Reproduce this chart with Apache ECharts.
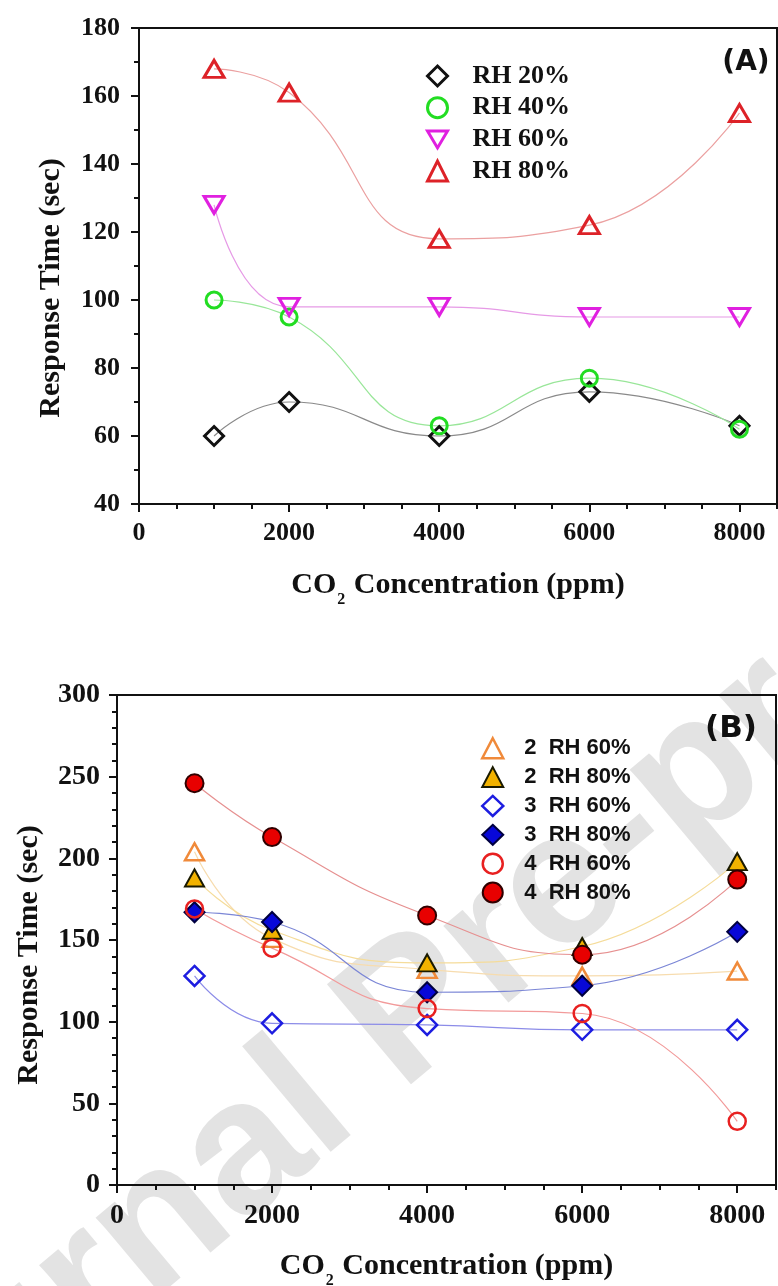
<!DOCTYPE html>
<html>
<head>
<meta charset="utf-8">
<script src="https://cdn.jsdelivr.net/npm/echarts@6/dist/echarts.min.js"></script>
<style>
  html, body { margin: 0; padding: 0; background: #fff; }
  #echart { width: 778px; height: 1286px; }
</style>
</head>
<body>
<div id="echart"></div>
<script>
// CO2 concentration (ppm) where each response time was measured
var concentrations = [1000, 2000, 4000, 6000, 8000];

// panel (A): response time (sec)
var rh20 = [60, 70, 60, 73, 63];
var rh40 = [100, 95, 63, 77, 62];
var rh60 = [128, 98, 98, 95, 95];
var rh80 = [168, 161, 118, 122, 155];

// panel (B): response time (sec)
var s2rh60 = [204, 151, 132, 128, 131];
var s2rh80 = [188, 156, 136, 146, 198];
var s3rh60 = [128, 99, 98, 95, 95];
var s3rh80 = [167, 161, 118, 122, 155];
var s4rh60 = [169, 145, 108, 105, 39];
var s4rh80 = [246, 213, 165, 141, 187];

var xTickLabels = [0, 2000, 4000, 6000, 8000];

var serif = 'Liberation Serif';
var sans = 'Liberation Sans';
var clear = 'rgba(0,0,0,0)';
var downTriangle = 'path://M0,0 L20,0 L10,17 Z';

function pairs(values) {
    return concentrations.map(function (x, i) { return [x, values[i]]; });
}

function line(name, values, axis, symbol, size, itemStyle, lineColor) {
    return {
        name: name,
        type: 'line',
        xAxisIndex: axis,
        yAxisIndex: axis / 2,
        data: pairs(values),
        smooth: 0.5,
        symbol: symbol,
        symbolSize: size,
        symbolKeepAspect: false,
        itemStyle: itemStyle,
        lineStyle: { color: lineColor, width: 1.2 },
        emphasis: { disabled: true }
    };
}

var st = {
    rh20: { color: clear, borderColor: '#111', borderWidth: 3 },
    rh40: { color: clear, borderColor: '#22dd22', borderWidth: 3 },
    rh60: { color: clear, borderColor: '#e020e0', borderWidth: 3 },
    rh80: { color: clear, borderColor: '#dd2228', borderWidth: 3 },
    s2rh60: { color: clear, borderColor: '#f08a3a', borderWidth: 2.5 },
    s2rh80: { color: '#f2b200', borderColor: '#1a1a00', borderWidth: 2 },
    s3rh60: { color: clear, borderColor: '#1d1de0', borderWidth: 2.5 },
    s3rh80: { color: '#0808d8', borderColor: '#000040', borderWidth: 2 },
    s4rh60: { color: clear, borderColor: '#e82020', borderWidth: 2.5 },
    s4rh80: { color: '#e80000', borderColor: '#300000', borderWidth: 2 }
};

function xAxes(grid) {
    var common = {
        type: 'value', gridIndex: grid, min: 0, max: 8500, position: 'bottom',
        splitLine: { show: false }
    };
    var a = Object.assign({}, common, {
        interval: 2000,
        axisLine: { lineStyle: { color: '#111', width: 2 } },
        axisTick: { length: 8, lineStyle: { color: '#111', width: 2 } },
        axisLabel: {
            margin: grid === 0 ? 16 : 17, showMaxLabel: false,
            fontFamily: serif, fontWeight: 'bold', fontSize: grid === 0 ? 26 : 28, color: '#111',
            formatter: function (v) { return xTickLabels.indexOf(v) >= 0 ? String(v) : ''; }
        },
        name: '{a|CO}{s|2}{a| Concentration (ppm)}',
        nameLocation: 'middle',
        nameGap: 66,
        nameMoveOverlap: false,
        nameTextStyle: {
            rich: {
                a: { fontFamily: serif, fontWeight: 'bold', fontSize: 30, lineHeight: 30, color: '#111', verticalAlign: 'top' },
                s: { fontFamily: serif, fontWeight: 'bold', fontSize: 16, lineHeight: 16, color: '#111', verticalAlign: 'top', padding: [22, 1, 0, 1] }
            }
        }
    });
    var b = Object.assign({}, common, {
        interval: 500,
        axisLine: { show: false },
        axisTick: { length: 5, lineStyle: { color: '#111', width: 2 } },
        axisLabel: { show: false }
    });
    return [a, b];
}

function yAxis(grid, min, max, interval, minorSplit, margin, size, shift) {
    return {
        type: 'value', gridIndex: grid, min: min, max: max, interval: interval,
        splitLine: { show: false },
        axisLine: { show: true, lineStyle: { color: '#111', width: 2 } },
        axisTick: { show: true, length: 8, lineStyle: { color: '#111', width: 2 } },
        minorTick: { show: true, splitNumber: minorSplit, length: 5, lineStyle: { color: '#111', width: 2 } },
        axisLabel: { margin: margin, fontFamily: serif, fontWeight: 'bold', fontSize: size, color: '#111' },
        name: 'Response Time (sec)',
        nameLocation: 'middle',
        nameGap: 73,
        nameMoveOverlap: false,
        nameTextStyle: {
            fontFamily: serif, fontWeight: 'bold', fontSize: 30, lineHeight: 30, color: '#111',
            padding: [0, shift, 0, 0]
        }
    };
}

function legendItem(name, icon, style) {
    return { name: name, icon: icon, itemStyle: style };
}

var chartDom = document.getElementById('echart');
var myChart = echarts.init(chartDom, null, { renderer: 'canvas' });

var option = {
    animation: false,
    backgroundColor: '#fff',
    grid: [
        { left: 139, top: 28, width: 638, height: 476, show: true, borderColor: '#111', borderWidth: 2, outerBoundsMode: 'none', containLabel: false },
        { left: 117, top: 695, width: 659, height: 490, show: true, borderColor: '#111', borderWidth: 2, outerBoundsMode: 'none', containLabel: false }
    ],
    xAxis: xAxes(0).concat(xAxes(1)),
    yAxis: [
        yAxis(0, 40, 180, 20, 2, 19, 26, 44),
        yAxis(1, 0, 300, 50, 5, 17, 28, 30)
    ],
    legend: [
        {
            orient: 'vertical', left: 421, top: 58, itemWidth: 20, itemHeight: 20, itemGap: 5.7,
            selectedMode: false,
            textStyle: { fontFamily: serif, fontWeight: 'bold', fontSize: 26, color: '#111', padding: [0, 0, 0, 20] },
            data: [
                legendItem('RH 20%', 'diamond', st.rh20),
                legendItem('RH 40%', 'circle', st.rh40),
                legendItem('RH 60%', downTriangle, st.rh60),
                legendItem('RH 80%', 'triangle', st.rh80)
            ]
        },
        {
            orient: 'vertical', left: 476, top: 732, itemWidth: 21, itemHeight: 20, itemGap: 6.6,
            selectedMode: false,
            textStyle: { fontFamily: sans, fontWeight: 'bold', fontSize: 22, color: '#111', padding: [0, 0, 0, 16] },
            data: [
                legendItem('2  RH 60%', 'triangle', st.s2rh60),
                legendItem('2  RH 80%', 'triangle', st.s2rh80),
                legendItem('3  RH 60%', 'diamond', st.s3rh60),
                legendItem('3  RH 80%', 'diamond', st.s3rh80),
                legendItem('4  RH 60%', 'circle', st.s4rh60),
                legendItem('4  RH 80%', 'circle', st.s4rh80)
            ]
        }
    ],
    graphic: [
        {
            type: 'text', x: 746, y: 63, z: 10,
            style: { text: '(A)', fontFamily: 'DejaVu Sans', fontWeight: 'bold', fontSize: 28, fill: '#111', align: 'center', verticalAlign: 'middle' }
        },
        {
            type: 'text', x: 731, y: 729, z: 10,
            style: { text: '(B)', fontFamily: 'DejaVu Sans', fontWeight: 'bold', fontSize: 31, fill: '#111', align: 'center', verticalAlign: 'middle' }
        },
        {
            type: 'text', x: 412, y: 1015, z: -1, rotation: 40 * Math.PI / 180,
            style: { text: 'Journal Pre-proof', fontFamily: sans, fontWeight: 'bold', fontSize: 190, fill: '#e3e3e3', align: 'center', verticalAlign: 'middle' }
        }
    ],
    series: [
        line('RH 20%', rh20, 0, 'diamond', 19, st.rh20, '#8a8a8a'),
        line('RH 40%', rh40, 0, 'circle', 16, st.rh40, '#99e699'),
        line('RH 60%', rh60, 0, downTriangle, [20, 17], st.rh60, '#e69ae6'),
        line('RH 80%', rh80, 0, 'triangle', [20, 17], st.rh80, '#eba0a0'),
        line('2  RH 60%', s2rh60, 2, 'triangle', [19, 17], st.s2rh60, '#f7dcae'),
        line('2  RH 80%', s2rh80, 2, 'triangle', [19, 17], st.s2rh80, '#f5dc9a'),
        line('3  RH 60%', s3rh60, 2, 'diamond', 20, st.s3rh60, '#8c8ce8'),
        line('3  RH 80%', s3rh80, 2, 'diamond', 20, st.s3rh80, '#7b86d6'),
        line('4  RH 60%', s4rh60, 2, 'circle', 17, st.s4rh60, '#f29a9a'),
        line('4  RH 80%', s4rh80, 2, 'circle', 18, st.s4rh80, '#e69090')
    ]
};

myChart.setOption(option);

window.addEventListener('resize', function () {
    myChart.resize();
});
</script>
</body>
</html>
